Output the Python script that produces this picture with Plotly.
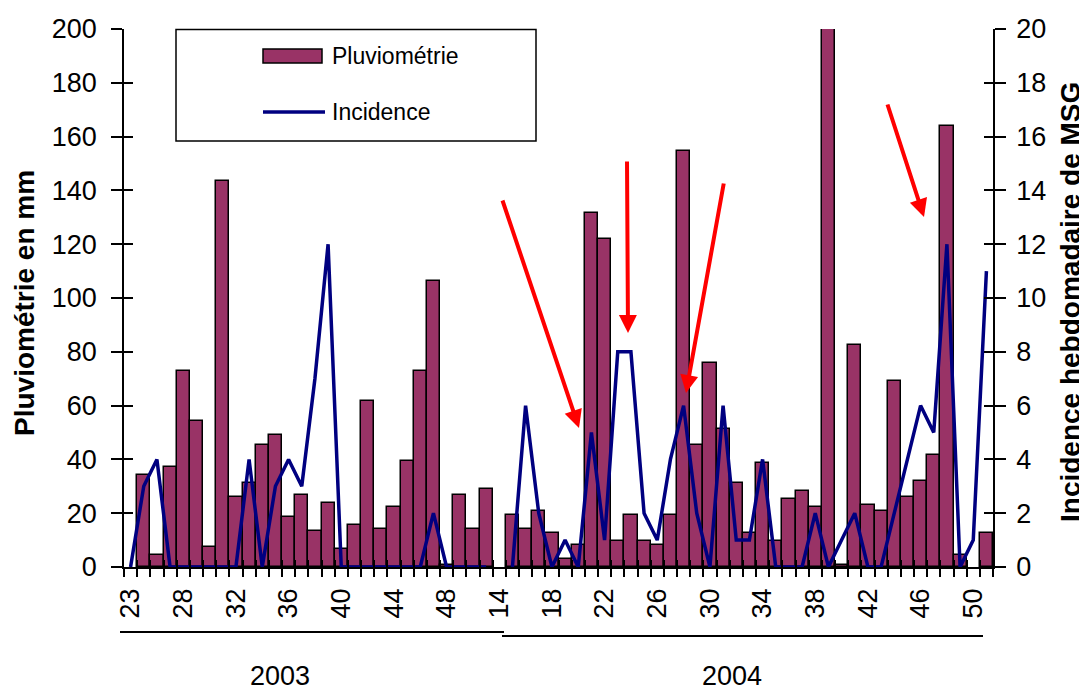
import plotly.graph_objects as go

# semaines (2003 puis 2004)
weeks_2003 = [23, 25, 26, 27, 28, 29, 30, 31, 32, 33, 34, 35, 36, 37, 38, 39, 40, 41, 42, 43,
              44, 45, 46, 47, 48, 49, 50, 51]
weeks_2004 = list(range(14, 52))

# pluviométrie hebdomadaire (mm)
pluvio_2003 = [None, 34.2, 4.3, 37.1, 72.8, 54.2, 7.6, 143.4, 26.0, 31.3, 45.3, 49.0, 18.6, 26.7,
               13.4, 23.8, 6.6, 15.6, 61.7, 14.2, 22.3, 39.4, 72.8, 106.2, 0.7, 26.7, 14.2, 29.0]
pluvio_2004 = [None, 19.2, 14.2, 20.8, 12.5, 3.1, 8.2, 131.5, 122.0, 9.7, 19.2, 9.7, 8.2, 19.2,
               154.5, 45.3, 75.7, 51.2, 31.3, 12.5, 38.8, 9.7, 25.4, 28.2, 22.3, 210.0, 0.7, 82.5,
               23.0, 20.8, 69.1, 26.0, 31.9, 41.6, 164.1, 4.3, None, 12.5]

# incidence hebdomadaire de MSG
incid_2003 = [0, 3, 4, 0, 0, 0, 0, 0, 0, 4, 0, 3, 4, 3, 7, 12, 0, 0, 0, 0, 0, 0, 0, 2, 0, 0, 0, 0]
incid_2004 = [None, 0, 6, 2, 0, 1, 0, 5, 1, 8, 8, 2, 1, 4, 6, 2, 0, 6, 1, 1, 4, 0, 0, 0, 2, 0, 1, 2,
              0, 0, 2, 4, 6, 5, 12, 0, 1, 11]

years = ["2003", "2004"]

cats = [f"2003-{w}" for w in weeks_2003] + [f"2004-{w}" for w in weeks_2004]
all_weeks = weeks_2003 + weeks_2004
tick_text = [str(w) if i % 4 == 0 else "" for i, w in enumerate(all_weeks)]
pluvio = pluvio_2003 + pluvio_2004
incid = incid_2003 + incid_2004

FONT = "Liberation Sans, Arial, sans-serif"
BAR = "#993366"
LINE = "#000080"

# zone de tracé voulue, en pixels de la page
W, H = 1087, 693
L, R, T, B = 124, 94, 29, 126
pw, ph = W - L - R, H - T - B
OFF = 8  # marge par défaut du <body> dans la page html


def px(x):
    return (x - L) / pw


def py(y):
    return (H - B - y) / ph


fig = go.Figure()
fig.add_trace(go.Bar(x=cats, y=pluvio, name="Pluviométrie", marker=dict(color=BAR, line=dict(color="black", width=1.5)),
                     yaxis="y"))
fig.add_trace(go.Scatter(x=cats, y=incid, name="Incidence", mode="lines", line=dict(color=LINE, width=3.5),
                         connectgaps=False, yaxis="y2"))
# axes fantômes pour les graduations vers l'intérieur
fig.add_trace(go.Scatter(x=cats, y=[0] * len(cats), mode="markers", marker=dict(opacity=0),
                         xaxis="x2", yaxis="y3", hoverinfo="skip", showlegend=False))
fig.add_trace(go.Scatter(x=cats, y=[0] * len(cats), mode="markers", marker=dict(opacity=0),
                         xaxis="x", yaxis="y4", hoverinfo="skip", showlegend=False))

tickfont = dict(family=FONT, size=27, color="black")
xcommon = dict(type="category", categoryorder="array", categoryarray=cats, range=[-0.5, len(cats) - 0.5],
               tickson="boundaries", tickcolor="black", tickwidth=1.5)

fig.update_layout(
    width=W, height=H,
    margin=dict(l=L - OFF, r=R + OFF, t=T - OFF, b=B + OFF),
    plot_bgcolor="white", paper_bgcolor="white",
    showlegend=False, bargap=0,
    font=dict(family=FONT, color="black"),
    xaxis=dict(**xcommon, tickvals=cats, ticktext=tick_text, ticks="outside", ticklen=8,
               tickangle=-90, tickfont=tickfont, ticklabelstandoff=9, automargin=False,
               showline=True, linecolor="black", linewidth=1.5, showgrid=False, zeroline=False),
    xaxis2=dict(**xcommon, tickvals=cats, ticks="inside", ticklen=7, showticklabels=False,
                overlaying="x", anchor="y", showline=False, showgrid=False, zeroline=False),
    yaxis=dict(range=[0, 200], dtick=20, ticks="outside", ticklen=11, tickcolor="black", tickwidth=1.5,
               tickfont=tickfont, ticklabelstandoff=9, showline=True, linecolor="black", linewidth=1.5,
               showgrid=False, zeroline=False, automargin=False),
    yaxis2=dict(range=[0, 20], dtick=2, overlaying="y", side="right", ticks="outside", ticklen=11,
                tickcolor="black", tickwidth=1.5, tickfont=tickfont, ticklabelstandoff=5, automargin=False,
                showline=True, linecolor="black", linewidth=1.5, showgrid=False, zeroline=False),
    yaxis3=dict(range=[0, 200], dtick=20, overlaying="y", side="left", ticks="inside", ticklen=9,
                tickcolor="black", tickwidth=1.5, showticklabels=False, showgrid=False, zeroline=False),
    yaxis4=dict(range=[0, 20], dtick=2, overlaying="y", side="right", ticks="inside", ticklen=9,
                tickcolor="black", tickwidth=1.5, showticklabels=False, showgrid=False, zeroline=False),
)

# titres des axes
titlefont = dict(family=FONT, size=28, color="black")
fig.add_annotation(text="<b>Pluviométrie en mm</b>", xref="paper", yref="paper", x=px(24), y=py(303),
                   xanchor="center", yanchor="middle", textangle=-90, showarrow=False, font=titlefont)
fig.add_annotation(text="<b>Incidence hebdomadaire de MSG</b>", xref="paper", yref="paper", x=px(1070),
                   y=py(302), xanchor="center", yanchor="middle", textangle=-90, showarrow=False,
                   font=titlefont)

# légende dessinée à la main (cadre, pavé, trait)
fig.add_shape(type="rect", xref="paper", yref="paper", x0=px(176), x1=px(536), y0=py(141), y1=py(29.5),
              line=dict(color="black", width=1.5), fillcolor="white", layer="above")
fig.add_shape(type="rect", xref="paper", yref="paper", x0=px(263), x1=px(322), y0=py(63), y1=py(49),
              line=dict(color="black", width=1.5), fillcolor=BAR, layer="above")
fig.add_shape(type="line", xref="paper", yref="paper", x0=px(263), x1=px(325), y0=py(112), y1=py(112),
              line=dict(color=LINE, width=3.5), layer="above")
for label, yy in [("Pluviométrie", 56), ("Incidence", 112)]:
    fig.add_annotation(text=label, xref="paper", yref="paper", x=px(330), y=py(yy), xanchor="left",
                       yanchor="middle", showarrow=False, font=dict(family=FONT, size=23, color="black"))

# années sous l'axe
fig.add_shape(type="line", xref="paper", yref="paper", x0=px(120), x1=px(504), y0=py(632), y1=py(632),
              line=dict(color="black", width=2))
fig.add_shape(type="line", xref="paper", yref="paper", x0=px(502), x1=px(983), y0=py(636), y1=py(636),
              line=dict(color="black", width=2))
for yr, xx in zip(years, [280, 732]):
    fig.add_annotation(text=yr, xref="paper", yref="paper", x=px(xx), y=py(676), xanchor="center",
                       yanchor="middle", showarrow=False, font=dict(family=FONT, size=27, color="black"))

# flèches rouges (pointe, queue) en pixels
arrows = [((579, 428), (502, 199)), ((628, 333), (627, 160)), ((686, 393), (724, 182)),
          ((924, 217), (887, 103))]
for (hx, hy), (tx, ty) in arrows:
    fig.add_annotation(text="", xref="paper", yref="paper", x=px(hx), y=py(hy), ax=tx - hx, ay=ty - hy,
                       showarrow=True, arrowhead=2, arrowsize=0.9, arrowwidth=4, arrowcolor="red")

fig.write_html("out.html")
